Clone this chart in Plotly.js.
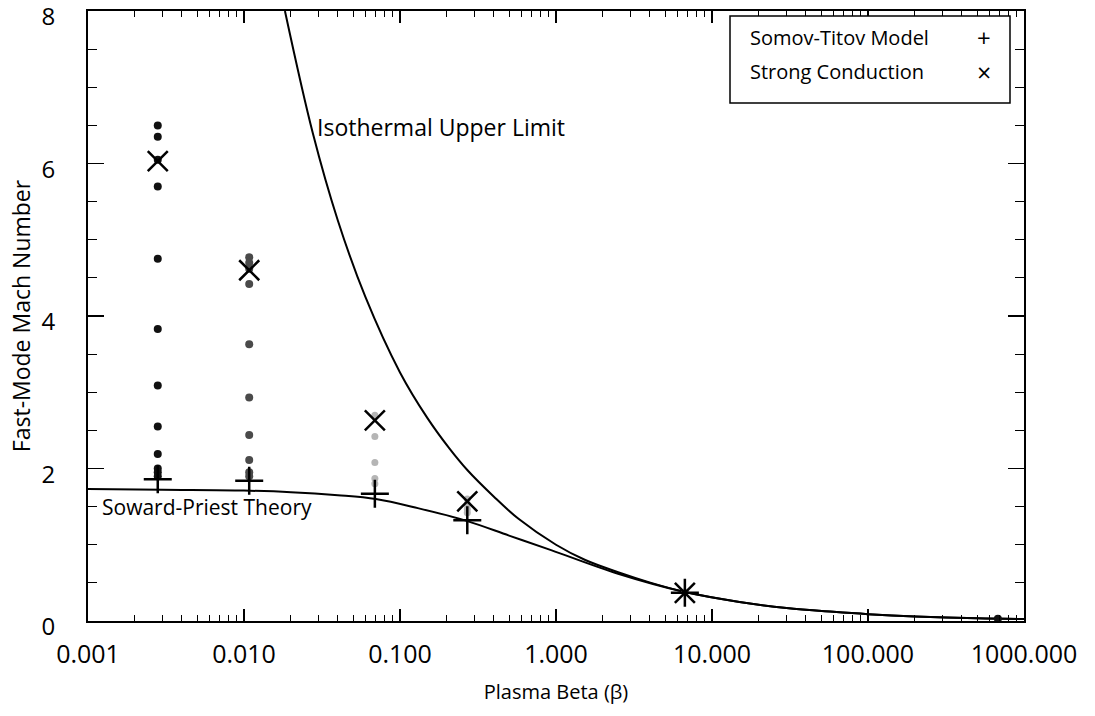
<!DOCTYPE html>
<html>
<head>
<meta charset="utf-8">
<script src="https://cdn.plot.ly/plotly-3.0.1.min.js"></script>
<style>html,body{margin:0;padding:0;background:#fff;}#chart{width:1095px;height:716px;}</style>
</head>
<body>
<div id="chart"></div>
<script>
// Isothermal upper limit
const isoBeta = [0.0183, 0.0276, 0.04, 0.06, 0.1, 0.15, 0.206, 0.27, 0.4, 0.575, 1.0, 1.54, 2.5, 4.07, 6.7, 15, 30, 60, 100, 200, 500, 1000];
const isoMach = [8.0, 6.4, 5.25, 4.25, 3.26, 2.66, 2.27, 1.98, 1.63, 1.34, 1.0, 0.80, 0.64, 0.50, 0.38, 0.25, 0.17, 0.12, 0.09, 0.06, 0.035, 0.025];
// Soward-Priest theory
const spBeta = [0.001, 0.003, 0.01, 0.02, 0.04, 0.07, 0.13, 0.27, 0.5, 0.93, 2.5, 6.7, 15, 30, 60, 100, 200, 500, 1000];
const spMach = [1.73, 1.72, 1.71, 1.69, 1.65, 1.60, 1.48, 1.31, 1.12, 0.93, 0.62, 0.38, 0.25, 0.17, 0.12, 0.09, 0.06, 0.035, 0.025];
// Simulation dots
const dotsBlackBeta = [0.0028, 0.0028, 0.0028, 0.0028, 0.0028, 0.0028, 0.0028, 0.0028, 0.0028, 0.0028, 0.0028, 0.0028, 680];
const dotsBlackMach = [6.50, 6.35, 6.05, 5.70, 4.75, 3.83, 3.09, 2.55, 2.19, 2.00, 1.95, 1.90, 0.03];
const dotsDarkBeta = [0.0108, 0.0108, 0.0108, 0.0108, 0.0108, 0.0108, 0.0108, 0.0108, 0.0108, 0.0108];
const dotsDarkMach = [4.77, 4.70, 4.62, 4.42, 3.63, 2.93, 2.44, 2.11, 1.95, 1.90];
const dotsLightBeta = [0.069, 0.069, 0.069, 0.069, 0.069, 0.27, 0.27, 0.27, 0.27, 6.7];
const dotsLightMach = [2.70, 2.42, 2.08, 1.87, 1.80, 1.60, 1.53, 1.47, 1.42, 0.38];
// Somov-Titov model (+)
const stBeta = [0.0028, 0.0108, 0.069, 0.27, 6.7];
const stMach = [1.86, 1.84, 1.67, 1.32, 0.37];
// Strong conduction (x)
const scBeta = [0.0028, 0.0108, 0.069, 0.27, 6.7];
const scMach = [6.03, 4.60, 2.63, 1.57, 0.37];
// Tick labels
const xTickVals = [0.001, 0.01, 0.1, 1, 10, 100, 1000];
const xTickText = ["0.001", "0.010", "0.100", "1.000", "10.000", "100.000", "1000.000"];
const yTickVals = [0, 2, 4, 6, 8];

const FONT = "Open Sans, Noto Sans, sans-serif";
const T = 11, B = 95, L = 88, R = 71, H = 716, W = 1095;
const PH = H - T - B, PW = W - L - R;
const px = x => (x - L) / PW;
const py = y => (H - B - y) / PH;

const traces = [
  {x: isoBeta, y: isoMach, mode: 'lines', line: {color: '#000', width: 2, shape: 'spline', smoothing: 1}, showlegend: false, hoverinfo: 'skip'},
  {x: spBeta, y: spMach, mode: 'lines', line: {color: '#000', width: 2, shape: 'spline', smoothing: 1}, showlegend: false, hoverinfo: 'skip'},
  {x: dotsBlackBeta, y: dotsBlackMach, mode: 'markers', marker: {symbol: 'circle', size: 8, color: '#111'}, showlegend: false},
  {x: dotsDarkBeta, y: dotsDarkMach, mode: 'markers', marker: {symbol: 'circle', size: 8, color: '#4a4a4a'}, showlegend: false},
  {x: dotsLightBeta, y: dotsLightMach, mode: 'markers', marker: {symbol: 'circle', size: 7, color: '#b5b5b5'}, showlegend: false},
  {x: stBeta, y: stMach, mode: 'markers', name: 'Somov-Titov Model', marker: {symbol: 'cross-thin', size: 20, line: {color: '#000', width: 2.5}}, showlegend: false},
  {x: scBeta, y: scMach, mode: 'markers', name: 'Strong Conduction', marker: {symbol: 'x-thin', size: 20, line: {color: '#000', width: 2.5}}, showlegend: false}
];

const layout = {
  width: W, height: H,
  margin: {l: L, r: R, t: T, b: B},
  paper_bgcolor: '#fff', plot_bgcolor: '#fff',
  showlegend: false,
  font: {family: FONT, color: '#000'},
  xaxis: {
    type: 'log', range: [-3, 3],
    tickvals: xTickVals, ticktext: xTickText,
    ticks: 'inside', ticklen: 12, tickwidth: 1.5, tickcolor: '#000',
    minor: {ticks: 'inside', ticklen: 6, tickcolor: '#000', tickwidth: 1, dtick: 'D1', showgrid: false},
    showline: true, linecolor: '#000', linewidth: 2, mirror: 'allticks',
    showgrid: false, zeroline: false,
    ticklabelstandoff: 10,
    tickfont: {size: 25, family: FONT, color: '#000'},
    title: {text: 'Plasma Beta (β)', font: {size: 20, family: FONT, color: '#000'}, standoff: 16}
  },
  yaxis: {
    range: [0, 8], tickvals: yTickVals,
    ticks: 'inside', ticklen: 16, tickwidth: 1.5, tickcolor: '#000',
    minor: {ticks: 'inside', ticklen: 9, tickcolor: '#000', tickwidth: 1, dtick: 0.5, showgrid: false},
    showline: true, linecolor: '#000', linewidth: 2, mirror: 'allticks',
    showgrid: false, zeroline: false,
    ticklabelstandoff: 26, ticklabeloverflow: 'allow', ticklabelshift: 6,
    tickfont: {size: 24, family: FONT, color: '#000'},
    title: {text: 'Fast-Mode Mach Number', font: {size: 23, family: FONT, color: '#000'}, standoff: 4}
  },
  shapes: [
    {type: 'rect', xref: 'paper', yref: 'paper', x0: px(730), x1: px(1010), y0: py(103), y1: py(16), line: {color: '#000', width: 1.5}, fillcolor: '#fff'}
  ],
  annotations: [
    {xref: 'x', yref: 'y', x: Math.log10(0.0287), y: 6.48, text: 'Isothermal Upper Limit', showarrow: false, xanchor: 'left', yanchor: 'middle', font: {size: 23, family: FONT, color: '#000'}},
    {xref: 'x', yref: 'y', x: Math.log10(0.00119), y: 1.5, text: 'Soward-Priest Theory', showarrow: false, xanchor: 'left', yanchor: 'middle', font: {size: 21, family: FONT, color: '#000'}},
    {xref: 'paper', yref: 'paper', x: px(748), y: py(37), text: 'Somov-Titov Model', showarrow: false, xanchor: 'left', yanchor: 'middle', font: {size: 20, family: FONT, color: '#000'}},
    {xref: 'paper', yref: 'paper', x: px(984), y: py(37), text: '+', showarrow: false, xanchor: 'center', yanchor: 'middle', font: {size: 24, family: FONT, color: '#000'}},
    {xref: 'paper', yref: 'paper', x: px(748), y: py(72), text: 'Strong Conduction', showarrow: false, xanchor: 'left', yanchor: 'middle', font: {size: 20, family: FONT, color: '#000'}},
    {xref: 'paper', yref: 'paper', x: px(984), y: py(72), text: '×', showarrow: false, xanchor: 'center', yanchor: 'middle', font: {size: 25, family: FONT, color: '#000'}}
  ]
};

Plotly.newPlot('chart', traces, layout, {displayModeBar: false, staticPlot: true});
</script>
</body>
</html>
